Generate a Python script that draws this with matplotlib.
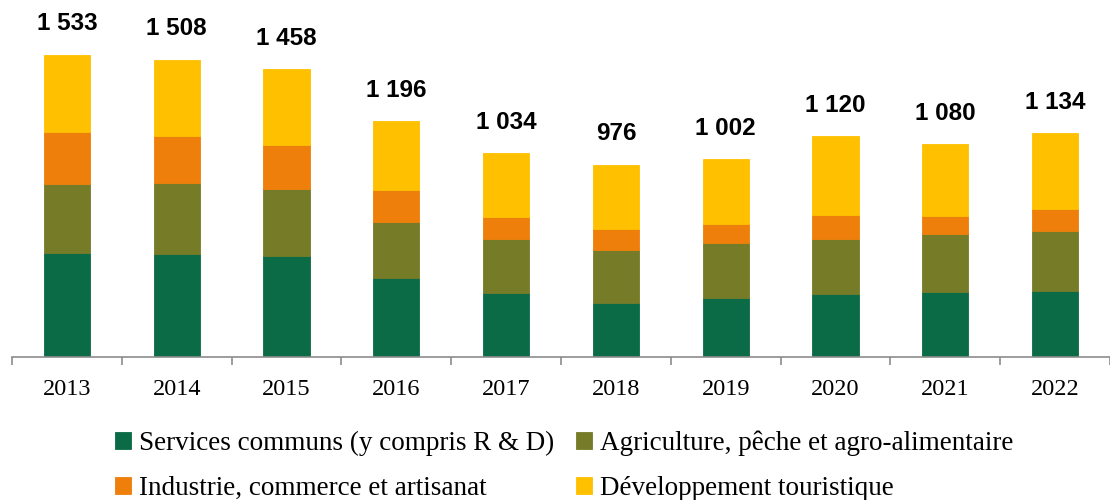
import matplotlib.pyplot as plt
import numpy as np

# Data
years = ['2013', '2014', '2015', '2016', '2017', '2018', '2019', '2020', '2021', '2022']
services = [525, 524, 514, 401, 325, 276, 298, 321, 331, 336]
agriculture = [352, 356, 338, 284, 275, 267, 278, 276, 291, 305]
industrie = [264, 242, 223, 162, 112, 108, 98, 123, 93, 111]
tourisme = [392, 386, 383, 349, 322, 325, 328, 400, 365, 382]
totals = [1533, 1508, 1458, 1196, 1034, 976, 1002, 1120, 1080, 1134]
total_labels = ['1 533', '1 508', '1 458', '1 196', '1 034', '976', '1 002', '1 120', '1 080', '1 134']

series_names = ['Services communs (y compris R & D)', 'Agriculture, pêche et agro-alimentaire',
                'Industrie, commerce et artisanat', 'Développement touristique']
colors = ['#0c6b47', '#767b28', '#ee7f0b', '#ffc000']

serif = ['Liberation Serif', 'DejaVu Serif']

fig = plt.figure(figsize=(11.1, 5), dpi=100)
# axes in pixel terms: left 12px, baseline at y=357px, runs off the right edge
ax = fig.add_axes([12 / 1110, 143 / 500, 1098 / 1110, 357 / 500])

x = np.arange(len(years))
bottom = np.zeros(len(years))
handles = []
for vals, name, col in zip([services, agriculture, industrie, tourisme], series_names, colors):
    b = ax.bar(x, vals, width=0.42, bottom=bottom, color=col, label=name,
               edgecolor=col, linewidth=0.6)
    handles.append(b)
    bottom += np.array(vals)

for xi, t, lab in zip(x, totals, total_labels):
    ax.annotate(lab, (xi, t), xytext=(0, 31), textcoords='offset pixels',
                ha='center', va='center', fontsize=17.5, fontweight='bold',
                family=['Liberation Sans', 'DejaVu Sans'])

ax.set_xlim(-0.5, -0.5 + 1098 / 111)
ax.set_ylim(0, 357 / 0.1972)

for s in ['top', 'right', 'left']:
    ax.spines[s].set_visible(False)
ax.spines['bottom'].set_color('#8c8c8c')
ax.spines['bottom'].set_linewidth(1.2)
ax.set_yticks([])

# category boundary ticks
ax.set_xticks(np.arange(-0.5, 10, 1.0), minor=True)
ax.tick_params(axis='x', which='minor', length=6, width=1.2, color='#8c8c8c', direction='out')
ax.tick_params(axis='x', which='major', length=0, pad=16)
ax.set_xticks(x)
ax.set_xticklabels(years, fontsize=17.5, family=serif)

# legend filled row by row
order = [0, 2, 1, 3]
fig.legend(handles=[handles[i] for i in order], labels=[series_names[i] for i in order],
           ncol=2, loc='upper left',
           bbox_to_anchor=(104 / 1110, 1 - 420 / 500), frameon=False,
           prop={'family': serif, 'size': 19.5}, handlelength=0.6, handleheight=0.6,
           handletextpad=0.3, columnspacing=0.8, labelspacing=0.72, borderaxespad=0)

fig.savefig('out.png', dpi=100)
